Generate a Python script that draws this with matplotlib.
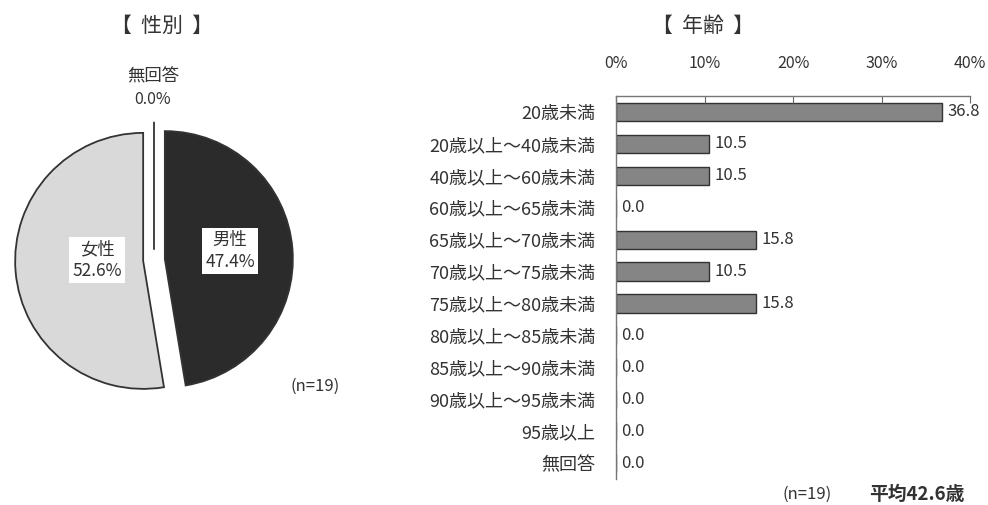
import matplotlib
matplotlib.use("Agg")
import matplotlib.pyplot as plt

plt.rcParams['font.family'] = ['Noto Sans CJK JP', 'DejaVu Sans']

# gender pie data (clockwise from 12 o'clock)
gender_labels = ["男性", "女性", "無回答"]
gender_values = [47.4, 52.6, 0.0]
gender_colors = ["#2b2b2b", "#d9d9d9", "#ffffff"]

# age bar data
age_labels = ["20歳未満", "20歳以上～40歳未満", "40歳以上～60歳未満", "60歳以上～65歳未満",
              "65歳以上～70歳未満", "70歳以上～75歳未満", "75歳以上～80歳未満", "80歳以上～85歳未満",
              "85歳以上～90歳未満", "90歳以上～95歳未満", "95歳以上", "無回答"]
age_values = [36.8, 10.5, 10.5, 0.0, 15.8, 10.5, 15.8, 0.0, 0.0, 0.0, 0.0, 0.0]
age_ticks = [0, 10, 20, 30, 40]

W, H = 988, 505
fig = plt.figure(figsize=(W / 100, H / 100), dpi=100)
txt = "#333333"


def px(x, y):
    # pixel position (from top-left) to figure fraction
    return x / W, 1 - y / H


# ---- pie ----
R = 128.0
cx, cy = 154, 260
ax_l, ax_t, ax_w, ax_h = 0, 100, 320, 320
ax1 = fig.add_axes([ax_l / W, 1 - (ax_t + ax_h) / H, ax_w / W, ax_h / H])
ax1.pie(gender_values, colors=gender_colors, startangle=90, counterclock=False,
        explode=[0.085, 0.085, 0.08], radius=1.0,
        wedgeprops=dict(edgecolor="#333333", linewidth=1.3))
ax1.set_xlim(-(cx - ax_l) / R, (ax_l + ax_w - cx) / R)
ax1.set_ylim(-(ax_t + ax_h - cy) / R, (cy - ax_t) / R)
ax1.set_aspect("auto")
ax1.axis("off")

box = dict(boxstyle="square,pad=0.2", facecolor="white", edgecolor="none")
ax1.text(0.594, 0.07, f"{gender_labels[0]}\n{gender_values[0]:.1f}%", ha="center", va="center",
         fontsize=12.5, color=txt, bbox=box, linespacing=1.25)
ax1.text(-0.445, 0.0, f"{gender_labels[1]}\n{gender_values[1]:.1f}%", ha="center", va="center",
         fontsize=12.5, color=txt, bbox=box, linespacing=1.25)
fig.text(*px(153, 76), gender_labels[2], ha="center", va="center", fontsize=12.5, color=txt)
fig.text(*px(153, 100), f"{gender_values[2]:.1f}%", ha="center", va="center", fontsize=11.5, color=txt)
fig.text(*px(315, 386), "(n=19)", ha="center", va="center", fontsize=12, color=txt)

fig.text(*px(162, 26), "【  性別  】", ha="center", va="center", fontsize=15, color=txt)
fig.text(*px(703, 26), "【  年齢  】", ha="center", va="center", fontsize=15, color=txt)

# ---- bars ----
bx0, bx1 = 616, 970
by0, by1 = 96, 479
ax2 = fig.add_axes([bx0 / W, 1 - by1 / H, (bx1 - bx0) / W, (by1 - by0) / H])
ypos = list(range(len(age_labels)))
ax2.barh(ypos, age_values, height=0.57, color="#858585", edgecolor="#333333", linewidth=1.0)
ax2.set_xlim(0, 40)
ax2.set_ylim(len(age_labels) - 0.5, -0.5)
ax2.xaxis.tick_top()
ax2.set_xticks(age_ticks)
ax2.set_xticklabels([f"{t}%" for t in age_ticks], fontsize=11.5, color=txt)
ax2.tick_params(axis="x", direction="in", length=5, pad=17, color="#666666")
ax2.set_yticks(ypos)
ax2.set_yticklabels(age_labels, fontsize=13, color=txt)
ax2.tick_params(axis="y", length=0, pad=15)
for s in ["right", "bottom"]:
    ax2.spines[s].set_visible(False)
for s in ["left", "top"]:
    ax2.spines[s].set_color("#777777")
    ax2.spines[s].set_linewidth(1.0)
for y, v in zip(ypos, age_values):
    ax2.text(v + 0.6, y, f"{v:.1f}", ha="left", va="center", fontsize=12, color=txt)

fig.text(*px(807, 494), "(n=19)", ha="center", va="center", fontsize=12, color=txt)
fig.text(*px(917, 494), "平均42.6歳", ha="center", va="center", fontsize=13.5, color=txt,
         fontweight="bold")

fig.savefig("out.png", dpi=100, facecolor="white")
